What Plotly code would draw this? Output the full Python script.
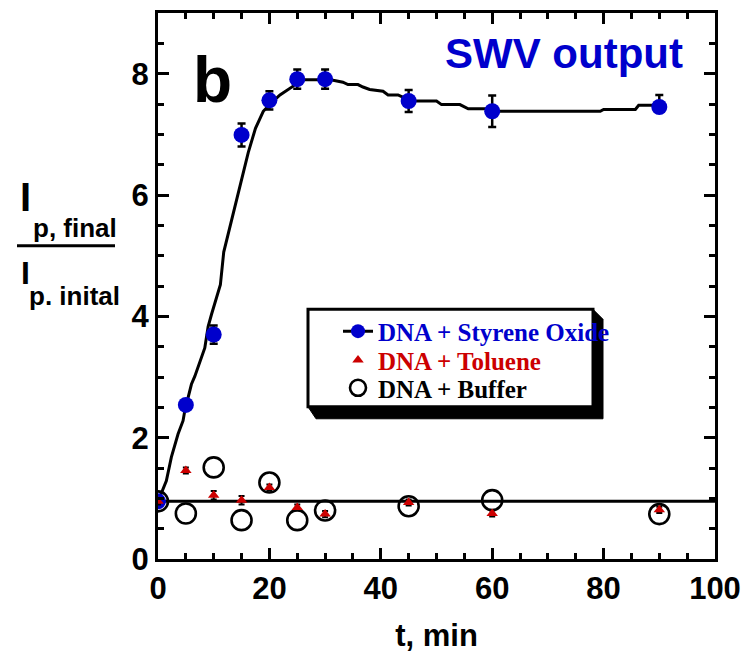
import plotly.graph_objects as go

# ---------------- data ----------------
styrene_t = [0, 5, 10, 15, 20, 25, 30, 45, 60, 90]
styrene_v = [0.95, 2.54, 3.70, 6.99, 7.56, 7.91, 7.91, 7.55, 7.38, 7.45]
styrene_err_plus = [0, 0, 0.15, 0.19, 0.15, 0.16, 0.16, 0.18, 0.26, 0.20]
styrene_err_minus = [0, 0, 0.15, 0.19, 0.15, 0.16, 0.16, 0.18, 0.26, 0.05]

curve_t = [0, 1.5, 2.4, 3.6, 4.5, 4.8, 6.0, 6.6, 8.4, 9.0, 9.6, 11.2, 11.8, 13.0,
           14.5, 15.5, 16.2, 17.5, 18.9, 20.5, 21.9, 24.2, 25.4, 31.0, 33.2, 34.1,
           35.9, 36.8, 38.0, 40.4, 41.3, 43.1, 45.4, 47.0, 50.0, 50.9, 54.2, 55.7,
           59.0, 60.3, 79.4, 80.0, 85.7, 86.3, 90.3]
curve_v = [0.95, 1.29, 1.68, 2.06, 2.28, 2.44, 2.88, 3.01, 3.48, 3.83, 4.03, 4.52,
           5.06, 5.50, 6.10, 6.45, 6.70, 7.10, 7.38, 7.53, 7.65, 7.79, 7.90, 7.90,
           7.86, 7.82, 7.82, 7.78, 7.74, 7.71, 7.65, 7.65, 7.55, 7.55, 7.55, 7.49,
           7.49, 7.42, 7.42, 7.38, 7.38, 7.41, 7.41, 7.48, 7.48]

toluene_t = [0, 5, 10, 15, 20, 25, 30, 45, 60, 90]
toluene_v = [0.95, 1.46, 1.05, 0.97, 1.18, 0.85, 0.74, 0.93, 0.75, 0.81]
toluene_err = [0.05, 0.05, 0.07, 0.07, 0.05, 0.05, 0.05, 0.05, 0.05, 0.05]

buffer_t = [0, 5, 10, 15, 20, 25, 30, 45, 60, 90]
buffer_v = [0.95, 0.75, 1.51, 0.64, 1.26, 0.64, 0.80, 0.87, 0.97, 0.74]

baseline_t = [0, 100]
baseline_v = [0.95, 0.95]

x_ticks = [0, 20, 40, 60, 80, 100]
y_ticks = [0, 2, 4, 6, 8]

BLUE = "#0000CC"
RED = "#CC0000"

# ---------------- geometry helpers ----------------
# The page body has an 8px margin, so the figure is drawn 8px in from the
# window's corner; positions below are given in window pixels.
OFF = 8
W, H = 745, 650
ML, MR, MT, MB = 150, 38, 2, 99
PW, PH = W - ML - MR, H - MT - MB


def px(x):
    return (x - OFF - ML) / PW


def py(y):
    return (H - MB - (y - OFF)) / PH


fig = go.Figure()

# buffer circles (drawn first)
fig.add_trace(go.Scatter(
    x=buffer_t, y=buffer_v, mode="markers",
    name="<span style='color:#000000'>DNA + Buffer</span>",
    marker=dict(symbol="circle-open", size=20, color="black", line=dict(width=2.6)),
    legend="legend3",
))
# baseline
fig.add_trace(go.Scatter(
    x=baseline_t, y=baseline_v, mode="lines", showlegend=False,
    line=dict(color="black", width=3),
))
# styrene fit curve
fig.add_trace(go.Scatter(
    x=curve_t, y=curve_v, mode="lines", showlegend=False,
    line=dict(color="black", width=3),
))
# styrene points
fig.add_trace(go.Scatter(
    x=styrene_t, y=styrene_v, mode="markers", showlegend=False,
    marker=dict(symbol="circle", size=16, color=BLUE),
    error_y=dict(type="data", symmetric=False, array=styrene_err_plus,
                 arrayminus=styrene_err_minus, color="black", thickness=2.5, width=4),
))
# legend proxy for styrene
fig.add_trace(go.Scatter(
    x=[None], y=[None], mode="lines+markers",
    name="<span style='color:#0000CC'>DNA + Styrene Oxide</span>",
    marker=dict(symbol="circle", size=14, color=BLUE),
    line=dict(color="black", width=3),
    legend="legend",
))
# toluene
fig.add_trace(go.Scatter(
    x=toluene_t, y=toluene_v, mode="markers",
    name="<span style='color:#CC0000'>DNA + Toluene</span>",
    marker=dict(symbol="triangle-up", size=10, color=RED),
    error_y=dict(type="data", array=toluene_err, color="black", thickness=2, width=3),
    legend="legend2",
))

# ---------------- legend box with shadow ----------------
bx0, by0, bx1, by1 = 308, 308, 593, 406
shadow = (f"M {px(bx1)},{py(by0)} L {px(bx1 + 10)},{py(by0 + 10)} "
          f"L {px(bx1 + 10)},{py(by1 + 12)} L {px(bx0 + 8)},{py(by1 + 12)} "
          f"L {px(bx0)},{py(by1)} Z")
shapes = [
    dict(type="path", xref="paper", yref="paper", path=shadow,
         fillcolor="black", line=dict(color="black", width=1), layer="above"),
    dict(type="rect", xref="paper", yref="paper", x0=px(bx0), y0=py(by0),
         x1=px(bx1), y1=py(by1), fillcolor="white",
         line=dict(color="black", width=3), layer="above"),
    # fraction bar of y-axis title
    dict(type="line", xref="paper", yref="paper", x0=px(17), x1=px(115),
         y0=py(244), y1=py(244), line=dict(color="black", width=3)),
]

SANS = "Liberation Sans, Arial, sans-serif"


def label(text, xc, ytop, size, color="black"):
    return dict(text=text, x=px(xc), y=py(ytop - 0.28 * size), xref="paper", yref="paper",
                xanchor="center", yanchor="top", showarrow=False,
                font=dict(family=SANS, size=size, color=color, weight="bold"))


annotations = [
    label("b", 212, 57, 64),
    label("SWV output", 564, 37, 42, BLUE),
    label("I", 25, 182, 40),
    label("p, final", 75, 216, 26),
    label("I", 25, 260, 32),
    label("p. inital", 74, 285, 26),
]

axis_common = dict(
    showline=True, linecolor="black", linewidth=3, mirror="allticks",
    ticks="inside", ticklen=11, tickwidth=3, tickcolor="black",
    showgrid=False, zeroline=False,
    tickfont=dict(family=SANS, size=31, color="black", weight="bold"),
)

fig.update_xaxes(
    range=[0, 100], tickvals=x_ticks, **axis_common,
    minor=dict(dtick=5, ticks="inside", ticklen=6, tickwidth=3, tickcolor="black"),
    title=dict(text="t, min", font=dict(family=SANS, size=31, color="black", weight="bold"),
               standoff=20),
)
fig.update_yaxes(
    range=[0, 9], tickvals=y_ticks, **axis_common,
    minor=dict(dtick=0.5, ticks="inside", ticklen=6, tickwidth=3, tickcolor="black"),
)

LEG_FONT = dict(family="Liberation Serif, Times New Roman, serif", size=25,
                color="black", weight="bold")


def leg(row_center):
    return dict(x=px(338), y=py(row_center - 24), xanchor="left", yanchor="top",
                bgcolor="rgba(0,0,0,0)", borderwidth=0, font=LEG_FONT)


fig.update_layout(
    width=W, height=H,
    margin=dict(l=ML, r=MR, t=MT, b=MB, pad=0),
    paper_bgcolor="white", plot_bgcolor="white",
    showlegend=True,
    legend=leg(331), legend2=leg(360), legend3=leg(388),
    shapes=shapes, annotations=annotations,
)

fig.write_html("out.html")
